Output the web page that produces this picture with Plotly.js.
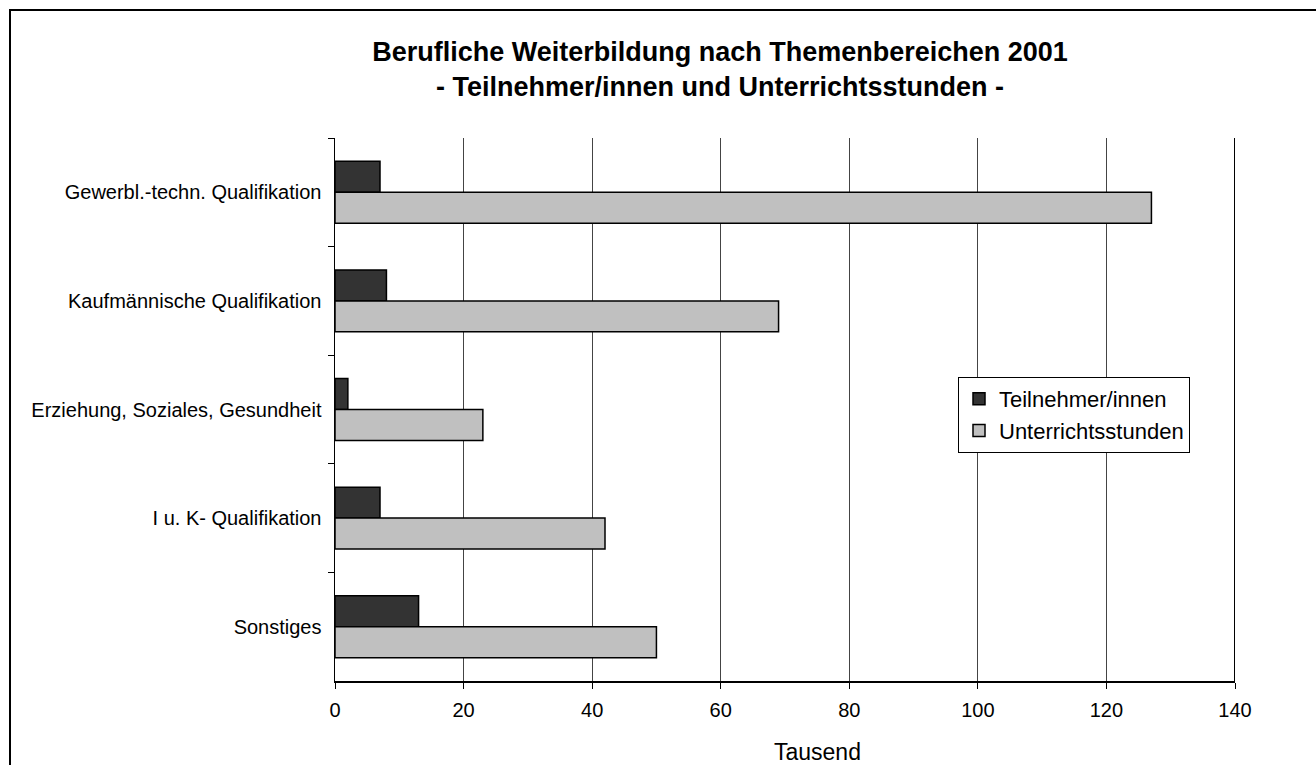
<!DOCTYPE html>
<html>
<head>
<meta charset="utf-8">
<script src="https://cdn.plot.ly/plotly-3.0.1.min.js"></script>
<style>
html,body{margin:0;padding:0;background:#fff;}
#chart{width:1316px;height:765px;}
</style>
</head>
<body>
<div id="chart"></div>
<script>
const categories = [
  "Gewerbl.-techn. Qualifikation",
  "Kaufmännische Qualifikation",
  "Erziehung, Soziales, Gesundheit",
  "I u. K- Qualifikation",
  "Sonstiges"
];
const teilnehmer = [7, 8, 2, 7, 13];
const unterrichtsstunden = [127, 69, 23, 42, 50];
const seriesNames = ["Teilnehmer/innen", "Unterrichtsstunden"];
const xTicks = [0, 20, 40, 60, 80, 100, 120, 140];

const W = 1316, H = 765;
const M = {l: 335, r: 81, t: 138, b: 84};
const pw = W - M.l - M.r, ph = H - M.t - M.b;
const px2x = p => (p - M.l) / pw;
const py2y = p => (H - M.b - p) / ph;

const font = "Liberation Sans, Arial, sans-serif";

const traces = [
  {
    type: "bar", orientation: "h", name: seriesNames[0],
    y: categories, x: teilnehmer,
    marker: {color: "#333333", line: {color: "#000", width: 1.5}}
  },
  {
    type: "bar", orientation: "h", name: seriesNames[1],
    y: categories, x: unterrichtsstunden,
    marker: {color: "#c0c0c0", line: {color: "#000", width: 1.5}}
  }
];

const layout = {
  width: W, height: H,
  margin: M,
  paper_bgcolor: "#fff", plot_bgcolor: "#fff",
  font: {family: font, color: "#000"},
  barmode: "group", bargap: 0.43, bargroupgap: 0,
  title: {
    text: "<b>Berufliche Weiterbildung nach Themenbereichen 2001<br>- Teilnehmer/innen und Unterrichtsstunden -</b>",
    font: {family: font, size: 27, color: "#000"},
    x: 720 / W, xanchor: "center", xref: "container",
    y: 1 - 61 / H, yanchor: "top", yref: "container"
  },
  xaxis: {
    range: [0, 140], tickvals: xTicks, ticktext: xTicks.map(String),
    showgrid: true, gridcolor: "#444", gridwidth: 1,
    showline: true, linecolor: "#000", linewidth: 1.5,
    ticks: "outside", ticklen: 6, tickcolor: "#000",
    tickfont: {family: font, size: 20, color: "#000"},
    ticklabelstandoff: 4,
    zeroline: false, fixedrange: true
  },
  yaxis: {
    autorange: "reversed", type: "category",
    showgrid: false,
    showline: true, linecolor: "#000", linewidth: 1.5,
    ticks: "outside", ticklen: 6, tickcolor: "#000", tickson: "boundaries",
    tickfont: {family: font, size: 20, color: "#000"},
    ticklabelstandoff: 8,
    fixedrange: true
  },
  legend: {
    x: px2x(958), xanchor: "left", y: py2y(377), yanchor: "top",
    bgcolor: "#fff", bordercolor: "#000", borderwidth: 1,
    font: {family: font, size: 22, color: "#000"},
    traceorder: "normal", itemwidth: 30, tracegroupgap: 0
  },
  annotations: [{
    text: "Tausend", showarrow: false,
    xref: "paper", yref: "paper",
    x: px2x(817), y: py2y(752), xanchor: "center", yanchor: "middle",
    font: {family: font, size: 23, color: "#000"}
  }],
  shapes: [
    {type: "line", xref: "x", yref: "paper", x0: 140, x1: 140, y0: 0, y1: 1,
     line: {color: "#000", width: 2}},
    {type: "rect", xref: "paper", yref: "paper",
     x0: px2x(10), x1: px2x(1340), y0: py2y(790), y1: py2y(10),
     line: {color: "#000", width: 2}, fillcolor: "rgba(0,0,0,0)", layer: "above"}
  ],
  showlegend: true
};

Plotly.newPlot("chart", traces, layout, {displayModeBar: false, staticPlot: true});
</script>
</body>
</html>
